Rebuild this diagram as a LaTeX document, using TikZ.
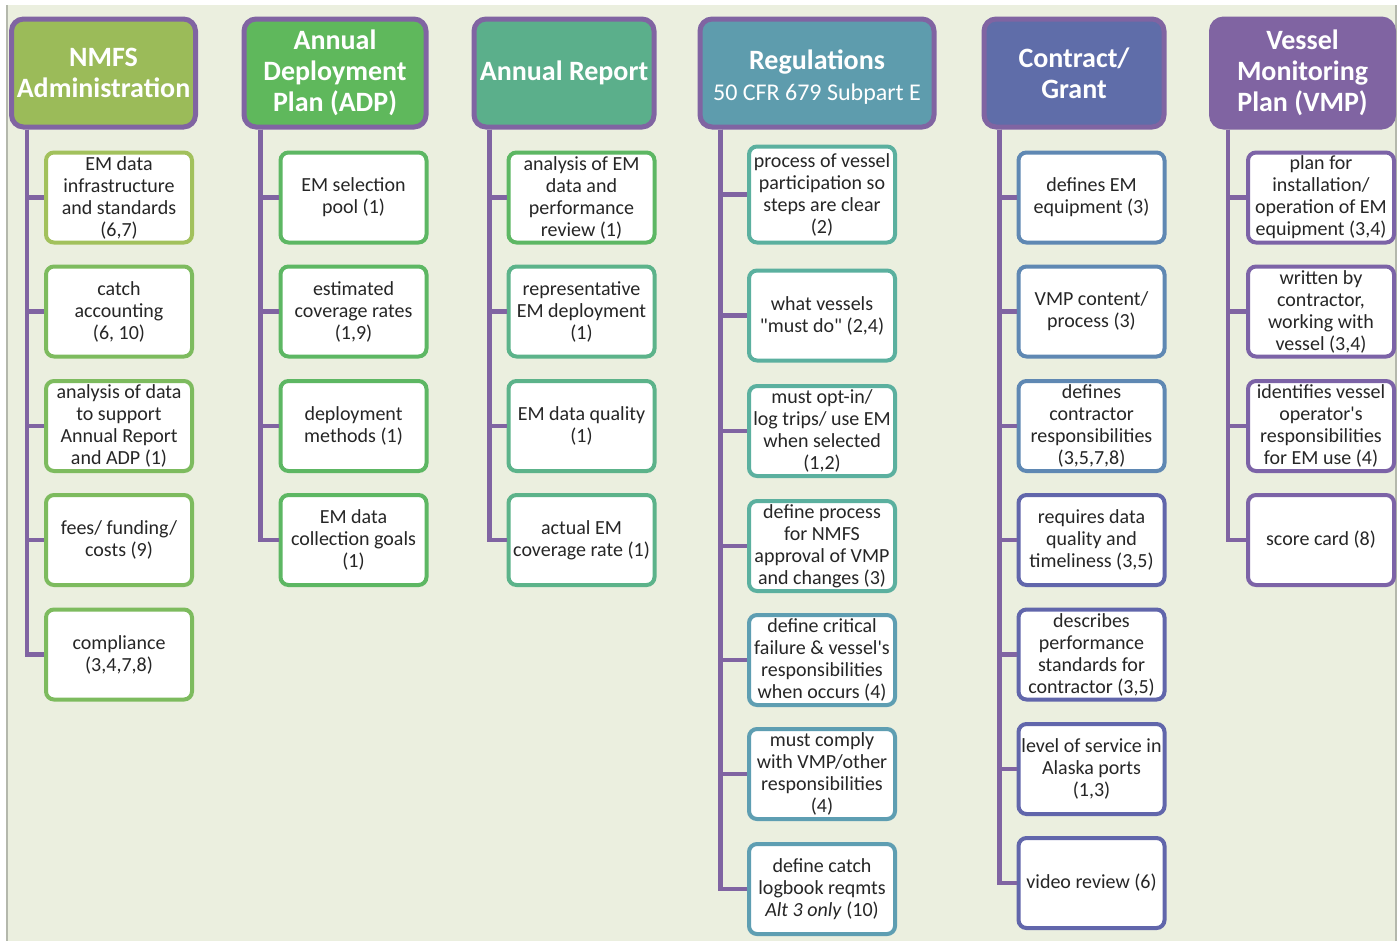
\documentclass[tikz,border=0pt]{standalone}
\usepackage{fontspec}
\setmainfont{Carlito}
\usepackage{xcolor}
\usepackage{tikz}

\definecolor{bgtint}{HTML}{EBEFDF}
\definecolor{bgedge}{HTML}{B4B8AC}
\definecolor{trunkpurple}{HTML}{8064A2}
\definecolor{inkgray}{HTML}{262626}
\definecolor{hdolive}{HTML}{9BBB59}
\definecolor{hdgreen}{HTML}{5FB85C}
\definecolor{hdsea}{HTML}{5BAF8B}
\definecolor{hdteal}{HTML}{5E9CAD}
\definecolor{hdblue}{HTML}{5F6DA9}
\definecolor{hdviolet}{HTML}{8064A2}
\definecolor{bxolive}{HTML}{A2C15C}
\definecolor{bxlime}{HTML}{7DBB5E}
\definecolor{bxgreen}{HTML}{5DB763}
\definecolor{bxsea}{HTML}{5CB38A}
\definecolor{bxaqua}{HTML}{5BB09F}
\definecolor{bxteal}{HTML}{5E9EB2}
\definecolor{bxsteel}{HTML}{5F88B3}
\definecolor{bxindigo}{HTML}{6166AB}
\definecolor{bxviolet}{HTML}{7C63A7}

\tikzset{
  hdr/.style={draw=trunkpurple, line width=2.5pt, rounded corners=6pt,
    minimum height=54pt, text=white, align=center, inner sep=1pt,
    font=\fontsize{14}{15.5}\selectfont\bfseries},
  item/.style={draw=#1, fill=white, line width=2pt, rounded corners=4pt,
    minimum width=73pt, minimum height=45pt, inner sep=0.5pt,
    align=center, text=inkgray, font=\fontsize{10}{11}\selectfont},
  link/.style={draw=trunkpurple, line width=2.3pt}
}

\begin{document}
\begin{tikzpicture}[x=0.5pt,y=-0.5pt]
\useasboundingbox (0,0) rectangle (1400,942);
\fill[bgtint] (7,5) rectangle (1396,941);
\draw[bgedge, line width=0.6pt] (7,5) -- (7,941);
\draw[bgedge, line width=0.6pt] (1396,5) -- (1396,941);

% headers
\node[hdr, fill=hdolive, minimum width=92pt] (nmfs) at (103.5,73) {NMFS\\Administration};
\node[hdr, fill=hdgreen, minimum width=91pt] (adp) at (335,73) {Annual\\Deployment\\Plan (ADP)};
\node[hdr, fill=hdsea, minimum width=90pt] (arep) at (564,73) {Annual Report};
\node[hdr, fill=hdteal, minimum width=117pt] (regs) at (817,73)
  {\rule{0pt}{14pt}Regulations\\[0pt]{\fontsize{12}{14}\selectfont\mdseries 50 CFR 679 Subpart E}};
\node[hdr, fill=hdblue, minimum width=90pt] (cgrant) at (1074,73) {Contract/\\Grant};
\node[hdr, fill=hdviolet, minimum width=91pt] (vmp) at (1302.5,73) {Vessel\\Monitoring\\Plan (VMP)};

% NMFS Administration
\node[item=bxolive] (nmfs1) at (119,197.5) {EM data\\infrastructure\\and standards\\(6,7)};
\node[item=bxlime] (nmfs2) at (119,311.5) {catch\\accounting\\(6, 10)};
\node[item=bxlime] (nmfs3) at (119,426) {analysis of data\\to support\\Annual Report\\and ADP (1)};
\node[item=bxlime] (nmfs4) at (119,540) {fees/ funding/\\costs (9)};
\node[item=bxlime] (nmfs5) at (119,654.5) {compliance\\(3,4,7,8)};
\draw[link] ([xshift=9pt]nmfs.south west) |- (nmfs1.west);
\draw[link] ([xshift=9pt]nmfs.south west) |- (nmfs2.west);
\draw[link] ([xshift=9pt]nmfs.south west) |- (nmfs3.west);
\draw[link] ([xshift=9pt]nmfs.south west) |- (nmfs4.west);
\draw[link] ([xshift=9pt]nmfs.south west) |- (nmfs5.west);

% ADP
\node[item=bxgreen] (adp1) at (353.5,197.5) {EM selection\\pool (1)};
\node[item=bxgreen] (adp2) at (353.5,311.5) {estimated\\coverage rates\\(1,9)};
\node[item=bxgreen] (adp3) at (353.5,426) {deployment\\methods (1)};
\node[item=bxgreen] (adp4) at (353.5,540) {EM data\\collection goals\\(1)};
\draw[link] ([xshift=9.5pt]adp.south west) |- (adp1.west);
\draw[link] ([xshift=9.5pt]adp.south west) |- (adp2.west);
\draw[link] ([xshift=9.5pt]adp.south west) |- (adp3.west);
\draw[link] ([xshift=9.5pt]adp.south west) |- (adp4.west);

% Annual Report
\node[item=bxgreen] (arep1) at (581.5,197.5) {analysis of EM\\data and\\performance\\review (1)};
\node[item=bxsea] (arep2) at (581.5,311.5) {representative\\EM deployment\\(1)};
\node[item=bxsea] (arep3) at (581.5,426) {EM data quality\\(1)};
\node[item=bxsea] (arep4) at (581.5,540) {actual EM\\coverage rate (1)};
\draw[link] ([xshift=9pt]arep.south west) |- (arep1.west);
\draw[link] ([xshift=9pt]arep.south west) |- (arep2.west);
\draw[link] ([xshift=9pt]arep.south west) |- (arep3.west);
\draw[link] ([xshift=9pt]arep.south west) |- (arep4.west);

% Regulations
\node[item=bxaqua, minimum height=48pt] (regs1) at (822,194.5) {process of vessel\\participation so\\steps are clear\\(2)};
\node[item=bxaqua] (regs2) at (822,315.5) {what vessels\\\textquotedbl must do\textquotedbl{} (2,4)};
\node[item=bxaqua] (regs3) at (822,431) {must opt-in/\\log trips/ use EM\\when selected\\(1,2)};
\node[item=bxaqua] (regs4) at (822,546) {define process\\for NMFS\\approval of VMP\\and changes (3)};
\node[item=bxteal] (regs5) at (822,660) {define critical\\failure \& vessel\textquotesingle s\\responsibilities\\when occurs (4)};
\node[item=bxteal] (regs6) at (822,774) {must comply\\with VMP/other\\responsibilities\\(4)};
\node[item=bxteal] (regs7) at (822,889) {define catch\\logbook reqmts\\\textit{Alt 3 only} (10)};
\draw[link] ([xshift=11.5pt]regs.south west) |- (regs1.west);
\draw[link] ([xshift=11.5pt]regs.south west) |- (regs2.west);
\draw[link] ([xshift=11.5pt]regs.south west) |- (regs3.west);
\draw[link] ([xshift=11.5pt]regs.south west) |- (regs4.west);
\draw[link] ([xshift=11.5pt]regs.south west) |- (regs5.west);
\draw[link] ([xshift=11.5pt]regs.south west) |- (regs6.west);
\draw[link] ([xshift=11.5pt]regs.south west) |- (regs7.west);

% Contract/Grant
\node[item=bxsteel] (cgrant1) at (1091.5,197.5) {defines EM\\equipment (3)};
\node[item=bxsteel] (cgrant2) at (1091.5,311.5) {VMP content/\\process (3)};
\node[item=bxsteel] (cgrant3) at (1091.5,426) {defines\\contractor\\responsibilities\\(3,5,7,8)};
\node[item=bxindigo] (cgrant4) at (1091.5,540) {requires data\\quality and\\timeliness (3,5)};
\node[item=bxindigo] (cgrant5) at (1091.5,654.5) {describes\\performance\\standards for\\contractor (3,5)};
\node[item=bxindigo] (cgrant6) at (1091.5,769) {level of service in\\Alaska ports\\(1,3)};
\node[item=bxindigo] (cgrant7) at (1091.5,883) {video review (6)};
\draw[link] ([xshift=9pt]cgrant.south west) |- (cgrant1.west);
\draw[link] ([xshift=9pt]cgrant.south west) |- (cgrant2.west);
\draw[link] ([xshift=9pt]cgrant.south west) |- (cgrant3.west);
\draw[link] ([xshift=9pt]cgrant.south west) |- (cgrant4.west);
\draw[link] ([xshift=9pt]cgrant.south west) |- (cgrant5.west);
\draw[link] ([xshift=9pt]cgrant.south west) |- (cgrant6.west);
\draw[link] ([xshift=9pt]cgrant.south west) |- (cgrant7.west);

% VMP
\node[item=bxviolet] (vmp1) at (1321,197.5) {plan for\\installation/\\operation of EM\\equipment (3,4)};
\node[item=bxviolet] (vmp2) at (1321,311.5) {written by\\contractor,\\working with\\vessel (3,4)};
\node[item=bxviolet] (vmp3) at (1321,426) {identifies vessel\\operator\textquotesingle s\\responsibilities\\for EM use (4)};
\node[item=bxviolet] (vmp4) at (1321,540) {score card (8)};
\draw[link] ([xshift=9.5pt]vmp.south west) |- (vmp1.west);
\draw[link] ([xshift=9.5pt]vmp.south west) |- (vmp2.west);
\draw[link] ([xshift=9.5pt]vmp.south west) |- (vmp3.west);
\draw[link] ([xshift=9.5pt]vmp.south west) |- (vmp4.west);
\end{tikzpicture}
\end{document}
